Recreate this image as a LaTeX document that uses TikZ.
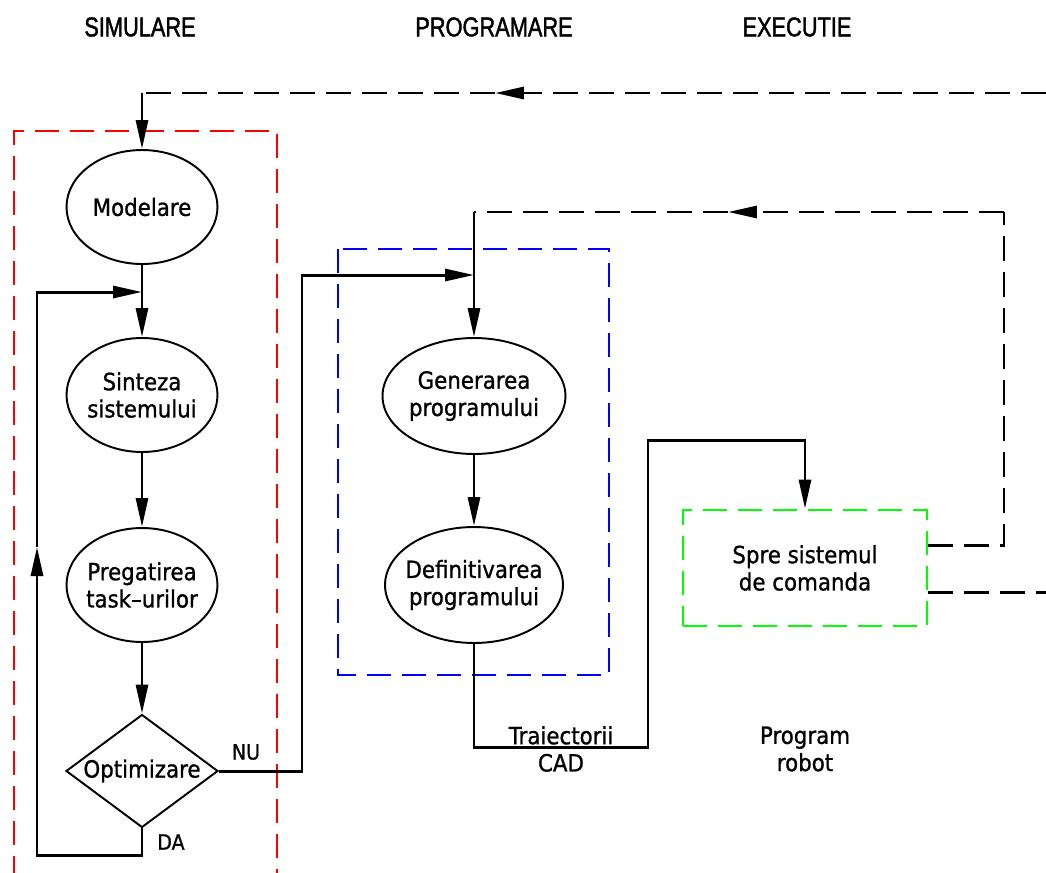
\documentclass[tikz,border=0pt]{standalone}
\usepackage{fontspec}
\usetikzlibrary{arrows.meta,shapes.geometric}
\newfontfamily\cadfont{DejaVu Sans}[FakeStretch=0.9,FakeBold=1]
\newfontfamily\titlufont{Liberation Sans}[FakeStretch=0.8,FakeBold=1.5]

\begin{document}
\begin{tikzpicture}[x=0.02cm,y=-0.02cm,
		sageata/.style={-{Triangle[length=0.58cm,width=0.24cm]}},
		linie/.style={line width=1.7pt,black},
		retur/.style={line width=1.7pt,black,dash pattern=on 0.5cm off 0.22cm},
		zona/.style={line width=1.6pt,dash pattern=on 0.48cm off 0.22cm},
		scris/.style={align=center,inner sep=0pt,font=\cadfont\fontsize{13.5}{15.5}\selectfont},
		elipsa/.style={ellipse,draw,line width=1.1pt,inner sep=0pt,minimum width=3.02cm,minimum height=2.28cm,label={[scris]center:#1}},
		romb/.style={diamond,draw,line width=1.1pt,inner sep=0pt,minimum width=3.04cm,minimum height=2.26cm,label={[scris]center:#1}},
		eticheta/.style={inner sep=0pt,font=\cadfont\fontsize{12}{12}\selectfont},
		titlu/.style={inner sep=0pt,font=\titlufont\fontsize{15.5}{16}\selectfont}]
	\useasboundingbox (0,0) rectangle (1046,873);
	
	%%%%% coloane %%%%%
	\node[titlu] (hsim) at (140,27) {SIMULARE};
	\node[titlu] (hprog) at (494,27) {PROGRAMARE};
	\node[titlu] (hexec) at (797,27) {EXECUTIE};
	
	\draw[zona,red] (14,880) -- (14,131) -- (277,131) -- (277,880);
	\draw[zona,blue] (338,249) rectangle (609,675);
	
	%%%%% simulare %%%%%
	\node[elipsa=Modelare] (model) at (142,207) {};
	\node[elipsa=Sinteza\\sistemului] (sint) at (142,395) {};
	\node[elipsa=Pregatirea\\task–urilor] (preg) at (142,585) {};
	\node[romb=Optimizare] (optim) at (142,771) {};
	
	%%%%% programare %%%%%
	\node[elipsa=Generarea\\programului,minimum width=3.66cm,minimum height=2.32cm] (gen) at (474,396) {};
	\node[elipsa=Definitivarea\\programului,minimum width=3.56cm,minimum height=2.32cm] (def) at (474,585) {};
	
	%%%%% executie %%%%%
	\node[zona,draw=green,scris,minimum width=4.88cm,minimum height=2.32cm] (spre) at (805,568) {Spre sistemul\\de comanda};
	
	\node[scris] (traj) at (561,749) {Traiectorii\\CAD};
	\node[scris] (prog) at (805,749) {Program\\robot};
	\node[eticheta] (nu) at (246,752) {NU};
	\node[eticheta] (da) at (171,842) {DA};
	
	% puncte de trecere
	\coordinate (dreapta) at (1046,93);
	\coordinate (sus1) at (495,93);
	\coordinate (sus2) at (model.north |- dreapta);
	\coordinate (bucla1) at (optim.south |- 0,855);
	\coordinate (bucla2) at (37,855);
	\coordinate (bucla3) at (37,547);
	\coordinate (bucla4) at (37,292);
	\coordinate (bucla5) at (model.south |- bucla4);
	\coordinate (nu1) at (302,771);
	\coordinate (nu2) at (302,275);
	\coordinate (nu3) at (gen.north |- nu2);
	\coordinate (cad1) at (def.south |- 0,747);
	\coordinate (cad2) at (648,747);
	\coordinate (cad3) at (648,440);
	\coordinate (cad4) at (spre.north |- cad3);
	\coordinate (ret1) at (1004,545);
	\coordinate (ret2) at (1004,212);
	\coordinate (ret3) at (728,212);
	\coordinate (ret4) at (gen.north |- ret2);
	\coordinate (iesire) at (1046,592);
	
	%%%%% legaturi %%%%%
	\draw[linie,sageata] (model) -- (sint);
	\draw[linie,sageata] (sint) -- (preg);
	\draw[linie,sageata] (preg) -- (optim);
	\draw[linie,sageata] (optim.south) -- (bucla1) -- (bucla2) -- (bucla3);
	\draw[linie,sageata] (bucla3) -- (bucla4) -- (bucla5);
	\draw[linie,sageata] (optim.east) -- (nu1) -- (nu2) -- (nu3);
	\draw[linie,sageata] (gen) -- (def);
	\draw[linie,sageata] (def.south) -- (cad1) -- (cad2) -- (cad3) -- (cad4) -- (spre.north);
	
	\draw[retur,sageata] (dreapta) -- (sus1);
	\draw[retur] (sus1) -- (sus2);
	\draw[linie,sageata] (sus2) -- (model.north);
	
	\draw[retur] (spre.east |- ret1) -- (ret1) -- (ret2);
	\draw[retur,sageata] (ret2) -- (ret3);
	\draw[retur] (ret3) -- (ret4);
	\draw[linie,sageata] (ret4) -- (gen.north);
	
	\draw[retur] (spre.east |- iesire) -- (iesire);
\end{tikzpicture}
\end{document}
